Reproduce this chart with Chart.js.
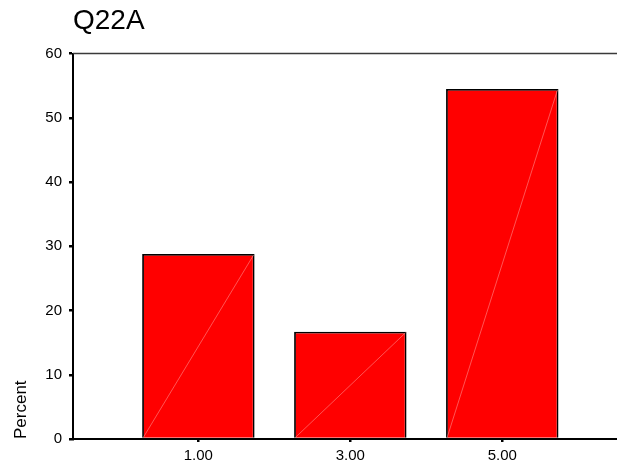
<!DOCTYPE html>
<html lang="en">
<head>
    <meta charset="UTF-8">
    <title>Q22A</title>
    <script src="https://cdn.jsdelivr.net/npm/chart.js"></script>
    <style>
        html, body { margin: 0; padding: 0; background: #fff; }
        #wrap { width: 617px; height: 463px; }
    </style>
</head>
<body>
    <div id="wrap">
        <canvas id="myChart" width="617" height="463"></canvas>
    </div>
    <script>
        // values
        const categories = [1, 3, 5];
        const percents = [28.8, 16.7, 54.5];
        const yTicks = [0, 10, 20, 30, 40, 50, 60];

        const fontFamily = "'Liberation Sans', Arial, sans-serif";

        // top frame line + the faint diagonal SPSS draws in each bar
        const framePlugin = {
            id: 'frame',
            afterDatasetsDraw(chart) {
                const ctx = chart.ctx;
                const area = chart.chartArea;
                ctx.save();
                chart.getDatasetMeta(0).data.forEach((bar) => {
                    const half = bar.width / 2;
                    ctx.beginPath();
                    ctx.moveTo(bar.x - half + 1, bar.base);
                    ctx.lineTo(bar.x + half - 1, bar.y + 1);
                    ctx.strokeStyle = 'rgba(255,150,150,0.8)';
                    ctx.lineWidth = 0.7;
                    ctx.stroke();
                });
                ctx.beginPath();
                ctx.moveTo(area.left, area.top);
                ctx.lineTo(area.right, area.top);
                ctx.strokeStyle = '#3a3a3a';
                ctx.lineWidth = 1.5;
                ctx.stroke();
                ctx.restore();
            }
        };

        const ctx = document.getElementById('myChart');
        const myChart = new Chart(ctx, {
            type: 'bar',
            data: {
                datasets: [{
                    label: 'Percent',
                    data: categories.map((c, i) => ({ x: c, y: percents[i] })),
                    backgroundColor: '#ff0000',
                    borderColor: '#000000',
                    borderWidth: 1.8,
                    barPercentage: 0.74,
                    categoryPercentage: 1.0
                }]
            },
            options: {
                responsive: false,
                animation: false,
                layout: { padding: 0 },
                plugins: {
                    legend: { display: false },
                    tooltip: { enabled: false },
                    title: {
                        display: true,
                        text: 'Q22A',
                        align: 'start',
                        fullSize: false,
                        color: '#000',
                        font: { family: fontFamily, size: 28, weight: 'normal' },
                        padding: { top: 4, bottom: 16 }
                    }
                },
                scales: {
                    x: {
                        type: 'linear',
                        offset: false,
                        min: -0.65,
                        max: 6.51,
                        afterBuildTicks: (scale) => {
                            scale.ticks = categories.map((v) => ({ value: v }));
                        },
                        afterFit: (scale) => { scale.height = 24; },
                        ticks: {
                            color: '#000',
                            font: { family: fontFamily, size: 15 },
                            padding: 5,
                            maxRotation: 0,
                            callback: (v) => Number(v).toFixed(2)
                        },
                        grid: {
                            offset: false,
                            drawOnChartArea: false,
                            drawTicks: true,
                            tickLength: 3,
                            color: '#000',
                            lineWidth: 2.5
                        },
                        border: { display: true, color: '#000', width: 2 }
                    },
                    y: {
                        min: 0,
                        max: 60,
                        afterBuildTicks: (scale) => {
                            scale.ticks = yTicks.map((v) => ({ value: v }));
                        },
                        afterFit: (scale) => { scale.width = 73; },
                        ticks: {
                            color: '#000',
                            font: { family: fontFamily, size: 15 },
                            padding: 7
                        },
                        grid: {
                            drawOnChartArea: false,
                            drawTicks: true,
                            tickLength: 4,
                            color: '#000',
                            lineWidth: 2.5
                        },
                        border: { display: true, color: '#000', width: 2 },
                        title: {
                            display: true,
                            text: 'Percent',
                            align: 'start',
                            color: '#000',
                            font: { family: fontFamily, size: 17 },
                            padding: { top: 11, bottom: 0 }
                        }
                    }
                }
            },
            plugins: [framePlugin]
        });
    </script>
</body>
</html>
